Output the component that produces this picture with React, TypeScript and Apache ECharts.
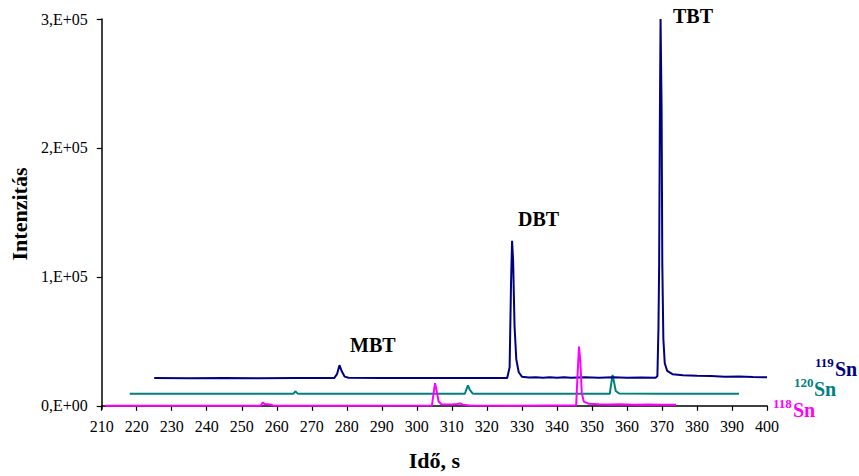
import React, { useEffect, useRef } from "react";
import * as echarts from "echarts";

// 119Sn trace (navy) — [time s, intensity]
const sn119: [number, number][] = [
  [225, 21500], [235, 21400], [245, 21500], [255, 21400], [265, 21500], [276.4, 21500],
  [277.2, 24500], [277.9, 31500], [278.6, 26500], [279.4, 22600], [280.5, 21700], [290, 21500],
  [300, 21500], [310, 21500], [320, 21500], [325.8, 21600], [326.5, 30000], [326.9, 95000],
  [327.2, 128000], [327.5, 112000], [327.9, 62000], [328.4, 36000], [329.1, 26000], [330, 22600],
  [332, 21900], [334, 22200], [336, 21700], [338, 22100], [340, 21700], [342, 22200], [344, 21800],
  [348, 22100], [352, 21800], [356, 22200], [360, 21700], [364, 22000], [368.2, 21800],
  [368.7, 23000], [369.0, 60000], [369.2, 110000], [369.4, 220000], [369.6, 300000],
  [369.9, 230000], [370.1, 110000], [370.4, 52000], [370.8, 33000], [371.5, 27000],
  [373, 24500], [376, 23600], [380, 23200], [384, 23000], [388, 22600], [392, 22700],
  [396, 22300], [400, 22100]
];

// 120Sn trace (teal)
const sn120: [number, number][] = [
  [218, 9300], [240, 9300], [264.7, 9300], [265.3, 11200], [265.9, 9600], [266.6, 9300],
  [290, 9300], [313.7, 9300], [314.2, 13000], [314.6, 15800], [315.1, 12500], [315.9, 9600],
  [316.8, 9300], [340, 9300], [355.1, 9300], [355.5, 17000], [355.9, 24000], [356.3, 18500],
  [356.8, 11500], [357.8, 9500], [370, 9300], [392, 9300]
];

// 118Sn trace (magenta)
const sn118: [number, number][] = [
  [211, 0], [240, 0], [255.4, 100], [256, 2600], [256.6, 1300], [258, 1000], [259, 300],
  [260, 0], [280, 0], [304.3, 200], [304.8, 10000], [305.2, 17500], [305.6, 12500],
  [306.2, 3500], [307, 1200], [310, 900], [311.5, 1300], [312.4, 1800], [313.1, 900],
  [315, 200], [330, 0], [345.5, 400], [345.9, 24000], [346.3, 46000], [346.7, 34000],
  [347.1, 10000], [347.7, 3200], [349, 1600], [352, 1100], [355, 900], [358, 1200],
  [362, 800], [366, 1000], [370, 700], [374, 700]
];

const yTicks = [0, 100000, 200000, 300000];

const FONT = "'Liberation Serif', 'Times New Roman', serif";

export default function App() {
  const ref = useRef<HTMLDivElement>(null);
  useEffect(() => {
    if (!ref.current) return;
    const chart = echarts.init(ref.current, null, { renderer: "svg" });
    const text = (x: number, y: number, t: string, size: number, color: string) => ({
      type: "text",
      x,
      y,
      style: {
        text: t,
        fontFamily: FONT,
        fontSize: size,
        fontWeight: "bold",
        fill: color,
        textVerticalAlign: "middle",
        textAlign: "left",
      },
    });
    chart.setOption({
      animation: false,
      backgroundColor: "#ffffff",
      textStyle: { fontFamily: FONT },
      grid: { left: 98, right: 92, top: 19, bottom: 66, containLabel: false },
      xAxis: {
        type: "value",
        min: 210,
        max: 400,
        interval: 10,
        name: "Idő, s",
        nameLocation: "middle",
        nameGap: 40,
        nameTextStyle: { fontFamily: FONT, fontSize: 22, fontWeight: "bold", color: "#000" },
        axisLine: { lineStyle: { color: "#000", width: 1.5 } },
        axisTick: { inside: false, length: 5, lineStyle: { color: "#000", width: 1.2 } },
        axisLabel: { fontFamily: FONT, fontSize: 16, color: "#000", margin: 9 },
        splitLine: { show: false },
      },
      yAxis: {
        type: "value",
        min: -2500,
        max: 300000,
        name: "Intenzitás",
        nameLocation: "middle",
        nameGap: 65,
        nameRotate: 90,
        nameTextStyle: { fontFamily: FONT, fontSize: 22, fontWeight: "bold", color: "#000" },
        axisLine: { show: true, lineStyle: { color: "#000", width: 1.5 } },
        axisTick: {
          show: true,
          length: 5,
          customValues: yTicks,
          lineStyle: { color: "#000", width: 1.2 },
        },
        axisLabel: {
          fontFamily: FONT,
          fontSize: 16,
          color: "#000",
          margin: 14,
          customValues: yTicks,
          formatter: (v: number) => (v === 0 ? "0,E+00" : `${Math.round(v / 100000)},E+05`),
        },
        splitLine: { show: false },
      },
      series: [
        {
          name: "119Sn",
          type: "line",
          data: sn119,
          showSymbol: false,
          lineStyle: { color: "#000080", width: 2 },
          itemStyle: { color: "#000080" },
          z: 3,
        },
        {
          name: "120Sn",
          type: "line",
          data: sn120,
          showSymbol: false,
          lineStyle: { color: "#008080", width: 2 },
          itemStyle: { color: "#008080" },
          z: 2,
        },
        {
          name: "118Sn",
          type: "line",
          data: sn118,
          showSymbol: false,
          lineStyle: { color: "#FF00FF", width: 2 },
          itemStyle: { color: "#FF00FF" },
          z: 4,
        },
      ],
      graphic: [
        text(673, 16, "TBT", 20, "#000"),
        text(518, 219, "DBT", 20, "#000"),
        text(350, 345, "MBT", 20, "#000"),
        text(815, 362, "119", 13, "#000080"),
        text(835, 369, "Sn", 20, "#000080"),
        text(794, 382, "120", 13, "#008080"),
        text(814, 389, "Sn", 20, "#008080"),
        text(773, 403, "118", 13, "#FF00FF"),
        text(793, 410, "Sn", 20, "#FF00FF"),
      ],
    });
    return () => chart.dispose();
  }, []);
  return (
    <div
      ref={ref}
      style={{ position: "fixed", left: 0, top: 0, width: 859, height: 476, background: "#fff" }}
    />
  );
}
